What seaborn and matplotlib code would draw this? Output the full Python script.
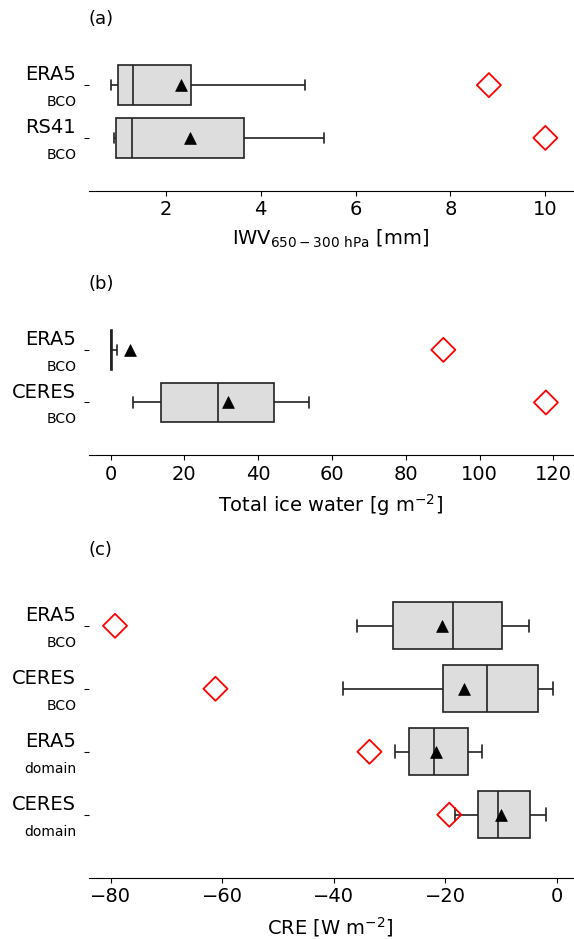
import numpy as np
import pandas as pd
import matplotlib
matplotlib.use("Agg")
import matplotlib.pyplot as plt
import seaborn as sns

# ---- (a) IWV between 650 and 300 hPa [mm] ----
iwv_names = ["ERA5", "RS41"]
iwv_sites = ["BCO", "BCO"]
iwv_whislo = [0.84, 0.90]
iwv_q1 = [1.00, 0.94]
iwv_med = [1.31, 1.28]
iwv_q3 = [2.54, 3.65]
iwv_whishi = [4.94, 5.33]
iwv_mean = [2.32, 2.50]
iwv_extreme = [8.81, 10.0]
iwv_ticks = [2, 4, 6, 8, 10]

# ---- (b) Total ice water [g m-2] ----
ice_names = ["ERA5", "CERES"]
ice_sites = ["BCO", "BCO"]
ice_whislo = [0.0, 6.0]
ice_q1 = [0.0, 13.8]
ice_med = [0.05, 29.2]
ice_q3 = [0.3, 44.2]
ice_whishi = [1.65, 53.8]
ice_mean = [5.2, 31.7]
ice_extreme = [90.2, 118.0]
ice_ticks = [0, 20, 40, 60, 80, 100, 120]

# ---- (c) Cloud radiative effect [W m-2] ----
cre_names = ["ERA5", "CERES", "ERA5", "CERES"]
cre_sites = ["BCO", "BCO", "domain", "domain"]
cre_whislo = [-35.9, -38.3, -29.1, -18.3]
cre_q1 = [-29.4, -20.5, -26.5, -14.1]
cre_med = [-18.6, -12.5, -22.0, -10.5]
cre_q3 = [-9.8, -3.4, -15.9, -4.9]
cre_whishi = [-5.05, -0.7, -13.5, -1.9]
cre_mean = [-20.6, -16.7, -21.6, -10.0]
cre_extreme = [-79.2, -61.2, -33.6, -19.3]
cre_ticks = [-80, -60, -40, -20, 0]

sns.set_style("ticks", {
    "axes.edgecolor": "black",
    "axes.labelcolor": "black",
    "text.color": "black",
    "xtick.color": "black",
    "ytick.color": "black",
})
plt.rcParams["font.family"] = ["DejaVu Sans"]

BOX_FILL = "#dddddd"
BOX_LINE = "#222222"


def draw_panel(ax, names, sites, whislo, q1, med, q3, whishi, mean, extreme,
               ticks, xlim, xlabel, title):
    keys = [f"{n} {s} {i}" for i, (n, s) in enumerate(zip(names, sites))]
    # five-number summary per dataset; whiskers span the full range
    rows = []
    for k, a, b, c, d, e in zip(keys, whislo, q1, med, q3, whishi):
        for v in (a, b, c, d, e):
            rows.append({"key": k, "value": v})
    df = pd.DataFrame(rows)

    sns.boxplot(data=df, x="value", y="key", order=keys, orient="h",
                whis=(0, 100), width=0.75, color=BOX_FILL, saturation=1,
                linecolor=BOX_LINE, linewidth=1.2, fliersize=0,
                capwidths=0.2, ax=ax)

    pos = np.arange(len(keys))
    sns.scatterplot(x=mean, y=pos, marker="^", s=72, color="black",
                    edgecolor="black", linewidth=0.5, zorder=5, ax=ax)
    sns.scatterplot(x=extreme, y=pos, marker="D", s=150, facecolor="none",
                    edgecolor="red", linewidth=1.3, zorder=6, ax=ax)

    ax.set_ylim(len(keys), -1)
    ax.set_xlim(*xlim)
    ax.set_xticks(ticks)
    ax.tick_params(axis="x", labelsize=14)
    ax.set_yticks(pos)
    ax.set_yticklabels([""] * len(keys))
    ax.set_ylabel("")
    ax.set_xlabel(xlabel, fontsize=14, labelpad=6)
    ax.set_title(title, loc="left", fontsize=13, pad=6)
    for sp in ("left", "top", "right"):
        ax.spines[sp].set_visible(False)

    tr = ax.get_yaxis_transform()
    for p, n, s in zip(pos, names, sites):
        ax.annotate(n, xy=(0, p), xycoords=tr, xytext=(-9, 3.5),
                    textcoords="offset points", ha="right", va="baseline",
                    fontsize=14)
        ax.annotate(s, xy=(0, p), xycoords=tr, xytext=(-9, -15),
                    textcoords="offset points", ha="right", va="baseline",
                    fontsize=10)


fig = plt.figure(figsize=(5.74, 9.39), dpi=100)
left, width = 0.1544, 0.998 - 0.1544
ax_a = fig.add_axes([left, 0.7969, width, 0.9656 - 0.7969])
ax_b = fig.add_axes([left, 0.5154, width, 0.6834 - 0.5154])
ax_c = fig.add_axes([left, 0.0653, width, 0.4006 - 0.0653])

draw_panel(ax_a, iwv_names, iwv_sites, iwv_whislo, iwv_q1, iwv_med, iwv_q3,
           iwv_whishi, iwv_mean, iwv_extreme, iwv_ticks, (0.372, 10.58),
           r"IWV$_{\mathrm{650-300\ hPa}}$ [mm]", "(a)")
draw_panel(ax_b, ice_names, ice_sites, ice_whislo, ice_q1, ice_med, ice_q3,
           ice_whishi, ice_mean, ice_extreme, ice_ticks, (-5.95, 125.3),
           r"Total ice water [g m$^{-2}$]", "(b)")
draw_panel(ax_c, cre_names, cre_sites, cre_whislo, cre_q1, cre_med, cre_q3,
           cre_whishi, cre_mean, cre_extreme, cre_ticks, (-83.93, 2.84),
           r"CRE [W m$^{-2}$]", "(c)")

fig.savefig("out.png", dpi=100)
